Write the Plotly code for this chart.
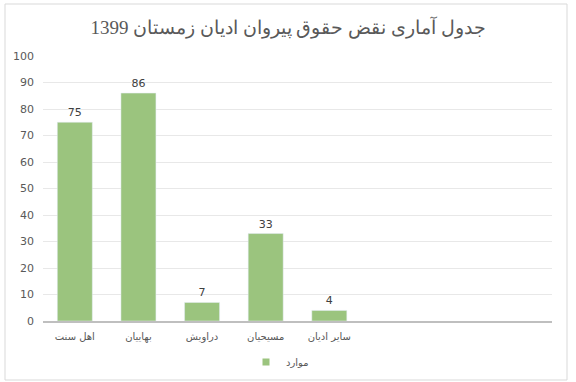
import plotly.graph_objects as go

categories = ["اهل سنت", "بهاییان", "دراویش", "مسیحیان", "سایر ادیان"]
values = [75, 86, 7, 33, 4]
series_name = "موارد"
title_text = "جدول آماری نقض حقوق پیروان ادیان زمستان 1399"

L, R, T, B = 43, 24, 56, 61
W, H = 576, 382
pw, ph = W - L - R, H - T - B
bar_color = "#9bc47e"

def px_x(x):
    return (x - L) / pw

def px_y(y):
    return (H - B - y) / ph

fig = go.Figure()
fig.add_trace(go.Bar(
    x=categories, y=values, name=series_name,
    marker=dict(color=bar_color),
    text=values, textposition="outside",
    textfont=dict(family="DejaVu Sans, sans-serif", size=11, color="#404040"),
    cliponaxis=False,
    showlegend=False,
))
# legend entry with a small square symbol
fig.add_trace(go.Scatter(
    x=[None], y=[None], mode="markers", name=series_name,
    marker=dict(symbol="square", size=7, color=bar_color),
    showlegend=True,
))

fig.update_layout(
    width=W, height=H,
    margin=dict(l=L, r=R, t=T, b=B, autoexpand=False),
    paper_bgcolor="white", plot_bgcolor="white",
    bargap=0.45,
    title=dict(text=title_text, x=0.5, xref="container", xanchor="center",
               y=1 - 27 / H, yref="container", yanchor="middle",
               font=dict(family="Liberation Serif, serif", size=19, color="#595959")),
    xaxis=dict(type="category", range=[-0.5, 7.5], showgrid=False, automargin=False,
               showline=True, linecolor="#bfbfbf", linewidth=2,
               ticks="", ticklabelstandoff=5,
               tickfont=dict(family="DejaVu Sans, sans-serif", size=10, color="#595959")),
    yaxis=dict(range=[0, 100], dtick=10, showgrid=True, gridcolor="#e8e8e8", gridwidth=1,
               zeroline=False, showline=False, ticks="", automargin=False,
               tickfont=dict(family="DejaVu Sans, sans-serif", size=11, color="#595959"),
               ticklabelstandoff=8),
    legend=dict(orientation="h", x=280 / W, xref="container", xanchor="center",
                y=1 - 362 / H, yref="container", yanchor="middle",
                font=dict(family="DejaVu Sans, sans-serif", size=10, color="#595959")),
    shapes=[dict(type="rect", xref="paper", yref="paper",
                 x0=px_x(5), x1=px_x(567), y0=px_y(380), y1=px_y(4),
                 line=dict(color="#d9d9d9", width=1), fillcolor="rgba(0,0,0,0)", layer="below")],
)

fig.write_html("out.html")
